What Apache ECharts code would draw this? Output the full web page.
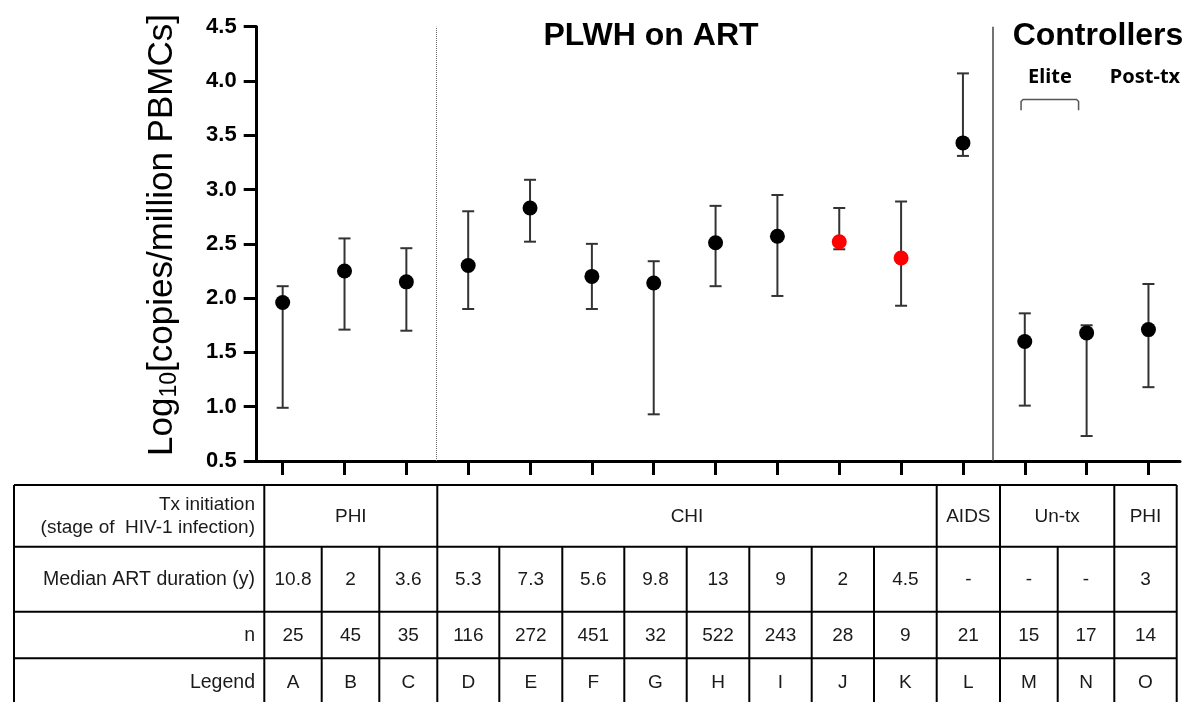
<!DOCTYPE html>
<html><head><meta charset="utf-8">
<script src="https://cdn.jsdelivr.net/npm/echarts@6/dist/echarts.min.js"></script>
<style>html,body{margin:0;padding:0;background:#fff}#c{width:1194px;height:702px}</style>
</head><body><div id="c"></div>
<script>
// ---- data ----
const categories = ['A','B','C','D','E','F','G','H','I','J','K','L','M','N','O'];
const medians = [1.96, 2.25, 2.15, 2.30, 2.83, 2.20, 2.14, 2.51, 2.57, 2.52, 2.37, 3.43, 1.60, 1.68, 1.71];
const lowers  = [0.99, 1.71, 1.70, 1.90, 2.52, 1.90, 0.93, 2.11, 2.02, 2.45, 1.93, 3.31, 1.01, 0.73, 1.18];
const uppers  = [2.11, 2.55, 2.46, 2.80, 3.09, 2.50, 2.34, 2.85, 2.95, 2.83, 2.89, 4.07, 1.86, 1.75, 2.13];
const redCategories = ['J','K'];
const yMin = 0.5, yMax = 4.5, yStep = 0.5;
const groupNames = ['PHI','CHI','AIDS','Un-tx','PHI'];
const groupSpans = [3, 8, 1, 2, 1];
const durations = ['10.8','2','3.6','5.3','7.3','5.6','9.8','13','9','2','4.5','-','-','-','3'];
const sampleSizes = ['25','45','35','116','272','451','32','522','243','28','9','21','15','17','14'];
const rowHeaders = [['Tx initiation','(stage of  HIV-1 infection)'], ['Median ART duration (y)'], ['n'], ['Legend']];
const panelTitles = ['PLWH on ART', 'Controllers'];
const subTitles = ['Elite', 'Post-tx'];

// ---- layout ----
const colEdges = [264.3,321.7,379.3,437.3,499.3,562.3,624.3,686.7,749.3,811.7,874,936.7,1000,1057.7,1114.3,1176.7];
const tableLeft = 14, tableRight = 1176.7;
const rowEdges = [485, 546.7, 611.7, 658.3, 702];
const rowCenters = [516.5, 580, 636, 683];
const tfont = '"Liberation Sans", Arial, sans-serif';

const graphics = [];
const line = (x1,y1,x2,y2,w) => graphics.push({type:'line', silent:true, shape:{x1,y1,x2,y2}, style:{stroke:'#000', lineWidth:w||2}});
for (let r = 0; r < 4; r++) line(tableLeft, rowEdges[r], tableRight, rowEdges[r]);
line(tableLeft, rowEdges[0], tableLeft, 702);
line(tableRight, rowEdges[0], tableRight, 702);
line(colEdges[0], rowEdges[0], colEdges[0], 702);
const boundaries = new Set();
let acc = 0;
groupSpans.forEach(s => { acc += s; boundaries.add(acc); });
for (let k = 1; k < categories.length; k++) {
  line(colEdges[k], boundaries.has(k) ? rowEdges[0] : rowEdges[1], colEdges[k], 702);
}
const txt = (x, y, s, align, size) => graphics.push({type:'text', silent:true, x, y,
  style:{text:s, fill:'#1a1a1a', font: (size||19)+'px '+tfont, textAlign:align||'center', textVerticalAlign:'middle'}});
txt(255, 505, rowHeaders[0][0], 'right', 19);
txt(255, 528, rowHeaders[0][1], 'right', 19);
for (let r = 1; r < 4; r++) txt(255, rowCenters[r], rowHeaders[r][0], 'right', 19.5);
acc = 0;
groupNames.forEach((g, i) => {
  const a = colEdges[acc], b = colEdges[acc + groupSpans[i]];
  txt((a + b) / 2, rowCenters[0], g, 'center', 19);
  acc += groupSpans[i];
});
categories.forEach((c, i) => {
  const cx = (colEdges[i] + colEdges[i+1]) / 2;
  txt(cx, rowCenters[1], durations[i]);
  txt(cx, rowCenters[2], sampleSizes[i]);
  txt(cx, rowCenters[3], c);
});
const boldT = (x, y, s, size, fam) => graphics.push({type:'text', silent:true, x, y,
  style:{text:s, fill:'#000', font:'bold '+size+'px '+fam, textAlign:'center', textVerticalAlign:'middle'}});
boldT(651, 36, panelTitles[0], 32, tfont);
boldT(1098, 36, panelTitles[1], 32, tfont);
boldT(1050, 77, subTitles[0], 20, '"Noto Sans", sans-serif');
boldT(1145, 77, subTitles[1], 20, '"Noto Sans", sans-serif');
graphics.push({type:'text', silent:true, x:162, y:235, rotation:Math.PI/2,
  style:{text:'{a|Log}{s|10}{a|[copies/million PBMCs]}', textAlign:'center', textVerticalAlign:'middle',
    rich:{a:{font:'35px '+tfont, fill:'#000'}, s:{font:'23px '+tfont, fill:'#000', padding:[16,0,0,0]}}}});

const xIdx = categories.map((c, i) => i);

const chart = echarts.init(document.getElementById('c'), null, {renderer:'canvas'});
chart.setOption({
  animation:false,
  backgroundColor:'#fff',
  grid:{left:256.7, right:14, top:26.7, bottom:241, containLabel:false},
  xAxis:{type:'value', min:-0.42, max:14.51,
    axisLine:{show:true, onZero:false, lineStyle:{color:'#000', width:3}},
    axisTick:{show:true, customValues:xIdx, length:14, lineStyle:{color:'#000', width:3}},
    axisLabel:{show:false, customValues:xIdx}, splitLine:{show:false}},
  yAxis:{type:'value', min:yMin, max:yMax, interval:yStep,
    axisLine:{show:true, onZero:false, lineStyle:{color:'#000', width:3}},
    axisTick:{show:true, length:13, lineStyle:{color:'#000', width:3}},
    axisLabel:{margin:20, color:'#000', fontSize:22, fontWeight:'bold', fontFamily:tfont, formatter:v => v.toFixed(1)},
    splitLine:{show:false}},
  graphic:graphics,
  series:[
    {type:'custom', z:2, silent:true,
      data: categories.map((c, i) => [i, lowers[i], uppers[i]]),
      renderItem(params, api) {
        const x = api.value(0);
        const pLo = api.coord([x, api.value(1)]), pHi = api.coord([x, api.value(2)]);
        const w = 6, st = {stroke:'#333', lineWidth:2};
        return {type:'group', children:[
          {type:'line', shape:{x1:pLo[0], y1:pLo[1], x2:pHi[0], y2:pHi[1]}, style:st},
          {type:'line', shape:{x1:pHi[0]-w, y1:pHi[1], x2:pHi[0]+w, y2:pHi[1]}, style:st},
          {type:'line', shape:{x1:pLo[0]-w, y1:pLo[1], x2:pLo[0]+w, y2:pLo[1]}, style:st}
        ]};
      }
    },
    {type:'custom', z:2, silent:true,
      data:[[11.94, 12.87, 3.83, 3.73]],
      renderItem(params, api) {
        const a = api.coord([api.value(0), api.value(2)]), b = api.coord([api.value(1), api.value(3)]);
        return {type:'polyline', shape:{points:[[a[0], b[1]], [a[0], a[1]+2], [a[0]+2, a[1]], [b[0]-2, a[1]], [b[0], a[1]+2], [b[0], b[1]]]},
          style:{stroke:'#555', lineWidth:1.5, fill:null}};
      }
    },
    {type:'scatter', z:3, silent:true, symbol:'circle', symbolSize:15,
      data: categories.map((c, i) => ({value:[i, medians[i]], itemStyle:{opacity:1, color: redCategories.includes(c) ? '#ff0000' : '#000'}})),
      markLine:{silent:true, symbol:'none', label:{show:false},
        data:[
          {xAxis:2.48, lineStyle:{type:'dotted', color:'#666', width:1}},
          {xAxis:11.49, lineStyle:{type:'solid', color:'#444', width:1.5}}
        ]}
    }
  ]
});
</script>
</body></html>
